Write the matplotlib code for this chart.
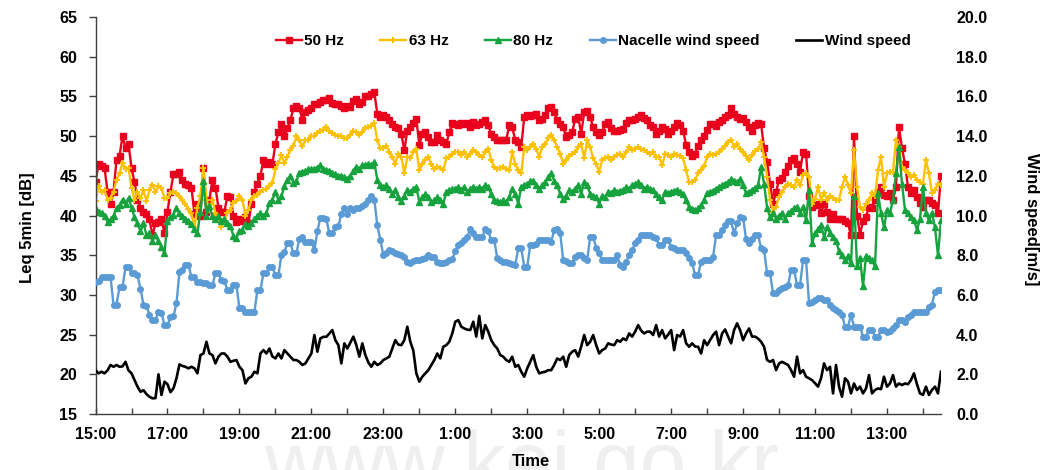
import numpy as np
import matplotlib
matplotlib.use("Agg")
import matplotlib.pyplot as plt

# 5-minute values from 15:00 to 14:30 next day (one row per hour)
leq_50hz = [
    44.2, 46.5, 46.2, 46.0, 43.0, 41.5, 43.0, 47.0, 47.5, 50.0, 48.5, 49.0,
    46.0, 44.2, 42.0, 41.0, 40.5, 40.2, 39.5, 37.5, 39.0, 39.2, 39.5, 37.8,
    40.5, 43.0, 45.2, 45.2, 45.5, 44.5, 44.0, 43.8, 43.5, 40.2, 41.5, 40.0,
    46.0, 40.5, 42.0, 44.5, 43.5, 41.0, 40.5, 40.5, 42.5, 42.3, 40.0, 39.2,
    39.5, 39.3, 39.8, 39.0, 41.5, 43.0, 44.0, 45.0, 47.0, 46.5, 46.8, 46.5,
    49.0, 50.5, 51.5, 50.0, 51.0, 52.0, 53.5, 53.8, 53.5, 52.0, 53.0, 53.3,
    53.5, 54.0, 54.0, 54.3, 54.5, 54.5, 54.8, 54.2, 54.0, 54.0, 53.8, 53.5,
    53.8, 53.7, 54.4, 54.7, 54.0, 54.3, 55.0, 55.1, 55.3, 55.5, 52.8, 52.4,
    52.6, 52.4, 52.0, 51.5, 51.1, 51.0, 50.3, 48.2, 50.7, 51.2, 51.6, 52.2,
    48.9, 50.3, 50.5, 49.9, 49.3, 49.3, 50.1, 49.5, 49.3, 49.0, 50.5, 51.6,
    51.5, 51.4, 51.6, 51.5, 51.6, 51.1, 51.8, 51.4, 51.5, 51.8, 52.0, 51.4,
    50.3, 49.9, 49.5, 49.5, 49.5, 49.5, 51.4, 51.1, 49.5, 49.2, 48.6, 52.4,
    52.6, 52.5, 52.6, 52.8, 52.0, 52.2, 52.6, 53.5, 53.7, 53.0, 52.0, 51.5,
    51.1, 49.9, 50.2, 50.5, 52.2, 52.4, 50.3, 53.0, 53.2, 52.4, 51.1, 50.5,
    50.1, 50.5, 51.5, 51.8, 51.0, 50.7, 50.7, 50.8, 50.9, 51.6, 52.0, 52.0,
    52.2, 52.4, 52.6, 52.3, 52.0, 51.4, 51.1, 50.3, 50.6, 51.1, 50.9, 50.3,
    50.6, 51.2, 51.6, 51.4, 50.7, 48.9, 48.0, 47.5, 47.8, 48.8, 49.5, 50.0,
    50.8, 51.5, 51.5, 51.3, 51.8, 52.0, 52.4, 52.6, 53.5, 52.8, 52.4, 52.2,
    52.3, 51.8, 51.1, 50.7, 51.4, 51.6, 51.5, 48.5, 46.8, 44.0, 41.5, 43.0,
    44.5, 44.7, 45.5, 46.2, 47.0, 47.3, 46.5, 45.5, 48.0, 47.8, 42.5, 41.1,
    41.3, 41.5, 40.3, 41.5, 40.5, 39.5, 40.2, 39.6, 39.6, 39.5, 39.3, 39.0,
    37.5, 50.0, 40.0, 37.6, 39.3, 39.8, 41.1, 40.9, 42.0, 43.0, 43.6, 42.6,
    42.4, 42.8, 42.0, 43.6, 51.2, 48.5, 46.5, 43.6, 42.8, 43.2, 42.3, 41.6,
    41.1, 42.0, 42.0, 41.6, 41.3, 40.3, 45.0,
]

leq_63hz = [
    41.8, 43.7, 43.0, 43.2, 42.0, 42.2, 43.0, 44.5, 45.3, 46.6, 45.8, 46.0,
    43.5, 42.0, 43.0, 42.2, 43.2, 41.8, 43.2, 43.9, 43.0, 43.7, 43.5, 42.2,
    42.2, 42.8, 43.0, 42.8, 42.4, 42.0, 41.5, 40.8, 40.3, 38.6, 41.0, 42.5,
    46.0, 42.0, 40.7, 42.0, 40.3, 39.5, 38.6, 39.5, 40.3, 40.7, 41.6, 41.8,
    42.4, 42.0, 39.9, 40.7, 42.0, 42.4, 42.6, 43.0, 43.2, 43.4, 43.7, 44.1,
    45.8, 46.6, 47.6, 46.6, 47.4, 48.3, 48.7, 50.0, 49.5, 48.7, 49.5, 49.5,
    50.0, 50.0, 50.4, 50.6, 50.8, 51.2, 50.6, 50.4, 50.2, 50.0, 50.0, 49.8,
    49.7, 50.2, 50.6, 50.5, 50.1, 50.5, 51.0, 51.1, 51.3, 51.6, 49.5, 48.5,
    48.5, 48.8, 48.0, 47.4, 46.5, 47.8, 47.4, 45.3, 47.4, 47.2, 48.0, 48.4,
    45.7, 46.5, 47.0, 47.4, 46.5, 45.9, 46.1, 46.0, 45.7, 47.2, 47.4, 47.8,
    48.0, 48.0, 47.6, 48.0, 47.4, 47.8, 48.2, 48.0, 47.6, 47.4, 48.0, 48.4,
    47.0, 46.1, 45.9, 46.0, 46.1, 45.9, 45.7, 48.0, 46.5, 45.7, 45.3, 48.6,
    48.2, 48.6, 49.0, 48.4, 47.4, 48.6, 49.0, 49.7, 50.1, 49.5, 48.6, 47.8,
    46.5, 47.0, 47.5, 47.8, 48.0, 48.6, 49.0, 47.2, 49.5, 48.6, 47.2, 46.5,
    45.5, 47.0, 47.2, 47.4, 47.0, 47.4, 47.6, 47.8, 47.4, 48.0, 48.6, 48.2,
    48.4, 48.6, 48.4, 48.2, 48.0, 47.8, 48.0, 47.4, 47.4, 46.3, 47.8, 47.6,
    47.4, 47.8, 47.6, 47.5, 47.2, 45.7, 44.2, 44.2, 44.5, 45.3, 45.7, 46.2,
    47.4, 47.8, 47.6, 47.8, 48.0, 48.4, 48.8, 49.2, 49.5, 48.6, 49.0, 48.4,
    48.0, 47.5, 47.0, 47.6, 48.1, 48.4, 49.2, 47.4, 44.9, 42.0, 40.5, 41.1,
    42.3, 43.0, 43.6, 44.0, 43.8, 43.6, 44.5, 43.8, 45.1, 45.3, 44.9, 41.5,
    42.1, 43.6, 42.0, 42.8, 42.0, 42.4, 42.2, 42.0, 42.0, 43.6, 44.9, 43.8,
    42.8, 48.2, 43.6, 41.1, 40.7, 41.5, 42.0, 42.8, 42.4, 45.7, 47.4, 43.6,
    45.3, 45.5, 45.5, 49.5, 48.6, 46.1, 45.7, 45.3, 44.9, 45.1, 44.5, 44.2,
    44.0, 47.0, 45.3, 42.8, 43.2, 44.0, 43.8,
]

leq_80hz = [
    40.8, 40.5, 40.3, 40.0, 39.2, 39.5, 40.0, 41.0, 41.3, 42.0, 41.5, 42.2,
    41.0, 39.8, 39.0, 38.0, 39.0, 37.5, 37.8, 36.8, 37.5, 36.8, 36.0, 35.3,
    39.3, 39.8, 40.1, 41.0, 40.3, 39.9, 39.5, 39.3, 38.9, 38.3, 37.8, 40.5,
    44.3, 39.9, 41.2, 39.9, 39.5, 39.9, 39.3, 39.5, 39.1, 38.7, 37.4, 37.2,
    38.0, 38.2, 38.9, 38.7, 39.1, 39.5, 39.9, 40.3, 39.9, 40.3, 41.6, 42.0,
    42.9, 42.0, 42.4, 43.7, 44.5, 45.0, 44.1, 44.3, 45.4, 45.5, 45.6, 45.8,
    45.8, 45.9, 46.0, 46.4, 45.8, 45.7, 45.6, 45.4, 45.2, 45.0, 45.0, 44.9,
    44.6, 45.0, 45.6, 46.1, 45.9, 46.3, 46.4, 46.5, 46.3, 46.7, 44.5, 43.8,
    43.6, 43.8, 43.4, 42.7, 43.2, 42.3, 41.8, 42.5, 43.2, 43.0, 43.4, 43.6,
    41.7, 42.3, 42.7, 42.3, 41.7, 41.9, 42.3, 41.9, 41.5, 43.0, 43.2, 43.3,
    43.4, 43.6, 43.2, 43.6, 43.0, 43.4, 43.6, 43.4, 43.6, 43.4, 43.8, 43.6,
    42.7, 41.9, 41.8, 41.7, 41.9, 41.7, 42.3, 43.4, 42.7, 41.5, 43.6, 43.8,
    44.0, 44.3, 44.4, 43.8, 43.4, 43.8, 44.2, 44.8, 45.3, 44.4, 43.8, 42.7,
    42.1, 42.5, 43.2, 43.0, 43.4, 43.8, 42.7, 44.2, 43.8, 42.7, 42.5, 42.3,
    41.5, 42.5, 42.3, 43.0, 42.8, 43.2, 43.0, 43.1, 43.2, 43.6, 43.4, 43.8,
    44.0, 44.2, 43.8, 43.4, 43.6, 43.4, 43.2, 42.7, 42.3, 41.9, 43.0, 42.8,
    43.0, 43.1, 43.2, 43.0, 42.7, 41.9, 41.1, 40.8, 40.7, 40.9, 41.3, 42.0,
    42.8, 43.0, 43.1, 43.4, 43.6, 43.8, 44.0, 44.2, 44.6, 44.4, 44.2, 44.6,
    43.8, 42.8, 43.0, 43.2, 43.5, 43.8, 46.1, 44.0, 41.0, 39.8, 40.3, 39.6,
    40.0, 40.3, 39.6, 40.3, 40.6, 40.9, 41.1, 40.3, 41.1, 39.4, 43.2, 36.5,
    37.8, 38.3, 38.8, 37.3, 38.5, 37.8, 37.3, 36.8, 35.5, 35.0, 34.4, 34.9,
    34.0, 42.4, 33.6, 34.7, 31.1, 34.9, 34.7, 34.4, 33.6, 42.8, 40.3, 38.5,
    40.7, 40.3, 42.0, 45.3, 48.6, 44.0, 40.7, 40.3, 39.8, 39.4, 38.2, 39.5,
    43.6, 40.3, 39.4, 40.3, 38.5, 35.0, 39.4,
]

nacelle_ws = [
    6.66, 6.70, 6.90, 6.90, 6.90, 6.90, 5.50, 5.50, 6.40, 6.40, 7.40, 7.40,
    7.10, 7.10, 7.00, 6.30, 5.50, 5.45, 5.00, 4.73, 4.75, 5.15, 5.10, 4.48,
    4.48, 4.90, 4.93, 5.57, 7.16, 7.25, 7.50, 7.50, 6.90, 6.90, 6.66, 6.66,
    6.58, 6.58, 6.50, 6.50, 7.08, 7.08, 6.75, 6.70, 6.24, 6.24, 6.50, 6.50,
    5.32, 5.32, 5.15, 5.15, 5.15, 5.15, 6.24, 6.24, 7.08, 7.08, 7.40, 7.40,
    7.00, 7.00, 8.00, 8.17, 8.60, 8.60, 8.10, 8.10, 8.84, 8.93, 8.67, 8.67,
    8.67, 8.26, 9.20, 9.90, 9.85, 9.80, 9.10, 9.10, 9.40, 9.45, 10.10, 10.40,
    10.10, 10.40, 10.30, 10.40, 10.40, 10.50, 10.60, 10.80, 11.00, 10.80, 9.50, 8.77,
    8.01, 8.10, 8.26, 8.20, 8.10, 8.08, 8.01, 7.93, 7.67, 7.59, 7.70, 7.76,
    7.76, 7.80, 7.84, 8.01, 7.93, 7.90, 7.67, 7.59, 7.62, 7.65, 7.76, 7.80,
    8.20, 8.51, 8.60, 8.77, 8.93, 9.30, 9.10, 8.93, 8.93, 8.93, 9.30, 9.20,
    8.77, 8.77, 7.84, 7.76, 7.67, 7.67, 7.59, 7.55, 7.50, 8.35, 8.35, 7.42,
    7.42, 8.51, 8.51, 8.55, 8.77, 8.77, 8.77, 8.77, 8.68, 9.27, 9.30, 9.10,
    7.76, 7.70, 7.59, 7.59, 7.93, 8.01, 8.00, 7.85, 7.76, 8.93, 8.93, 8.35,
    8.10, 7.76, 7.76, 7.76, 7.76, 7.76, 8.01, 7.50, 7.42, 7.67, 8.01, 8.26,
    8.60, 8.77, 9.02, 9.02, 9.02, 9.02, 8.93, 8.85, 8.51, 8.51, 8.77, 8.77,
    8.40, 8.35, 8.26, 8.26, 8.26, 8.10, 7.84, 7.60, 7.00, 7.00, 7.67, 7.76,
    7.76, 7.76, 7.93, 9.02, 9.02, 9.27, 9.50, 9.70, 9.70, 9.10, 9.60, 9.94,
    9.90, 8.80, 8.60, 8.80, 9.02, 9.02, 8.35, 8.26, 7.08, 7.08, 6.08, 6.08,
    6.24, 6.33, 6.40, 6.50, 7.25, 7.25, 6.50, 6.50, 7.76, 7.76, 5.58, 5.66,
    5.75, 5.83, 5.83, 5.75, 5.75, 5.50, 5.33, 5.24, 5.16, 5.00, 4.40, 4.40,
    5.00, 4.40, 4.40, 4.40, 3.90, 3.90, 4.23, 4.23, 3.90, 3.90, 4.23, 4.23,
    4.15, 4.20, 4.32, 4.49, 4.74, 4.74, 4.66, 4.91, 5.00, 5.16, 5.16, 5.16,
    5.16, 5.16, 5.41, 5.50, 6.17, 6.25, 6.25,
]

wind_ws = [
    2.21, 2.05, 2.13, 2.05, 2.20, 2.47, 2.38, 2.47, 2.38, 2.40, 2.63, 2.20,
    2.05, 1.71, 1.38, 1.12, 1.20, 1.00, 0.87, 0.79, 0.80, 2.00, 0.96, 1.63,
    1.50, 1.10, 1.30, 1.80, 2.50, 2.42, 2.38, 2.30, 2.38, 2.30, 2.05, 2.97,
    3.05, 3.64, 3.05, 2.97, 2.55, 2.89, 3.05, 3.05, 2.89, 2.63, 2.68, 2.72,
    2.38, 2.21, 1.54, 1.80, 1.88, 2.13, 2.05, 3.05, 3.22, 3.05, 3.30, 2.90,
    2.80, 3.05, 2.80, 3.22, 3.05, 2.89, 2.72, 2.72, 2.63, 2.47, 2.55, 2.80,
    3.05, 3.98, 3.14, 3.81, 3.89, 3.89, 4.06, 4.23, 3.72, 3.47, 2.55, 3.56,
    3.30, 3.60, 3.90, 3.47, 2.89, 3.56, 2.97, 2.60, 2.38, 2.63, 2.47, 2.55,
    2.72, 2.80, 2.89, 3.30, 3.72, 3.50, 3.47, 3.72, 4.40, 3.64, 3.20, 2.05,
    1.63, 1.88, 2.05, 2.21, 2.47, 2.72, 3.05, 2.80, 3.39, 3.47, 3.64, 4.06,
    4.65, 4.73, 4.40, 4.31, 4.25, 4.23, 4.65, 3.90, 4.94, 3.81, 4.48, 4.15,
    3.72, 3.47, 3.30, 2.97, 2.89, 2.72, 2.63, 2.89, 2.38, 2.47, 2.13, 1.88,
    2.30, 2.63, 2.97, 2.38, 2.05, 2.10, 2.13, 2.21, 2.21, 2.47, 2.80, 2.72,
    2.89, 2.38, 2.97, 3.14, 3.22, 2.89, 3.40, 3.98, 3.47, 3.64, 3.98, 3.47,
    3.05, 3.22, 3.30, 3.56, 3.50, 3.47, 3.72, 3.64, 3.81, 3.72, 4.06, 3.90,
    4.15, 4.48, 4.20, 4.06, 4.15, 4.15, 3.98, 4.48, 3.90, 4.23, 3.81, 4.00,
    4.23, 3.22, 3.98, 3.90, 4.23, 3.56, 3.39, 3.56, 3.40, 3.39, 3.05, 3.72,
    3.47, 3.72, 3.98, 4.15, 3.47, 4.06, 4.26, 3.90, 3.56, 4.23, 4.57, 4.23,
    3.72, 4.06, 4.31, 3.90, 3.90, 3.80, 3.64, 3.39, 2.72, 2.63, 2.72, 2.21,
    2.55, 2.63, 2.55, 2.47, 2.21, 1.88, 2.89, 2.05, 2.21, 1.88, 1.80, 1.71,
    1.55, 1.38, 1.80, 2.55, 2.21, 2.38, 1.04, 2.47, 1.38, 0.87, 1.80, 1.63,
    1.04, 1.54, 1.21, 1.38, 1.04, 1.29, 1.96, 1.04, 1.21, 1.29, 1.25, 1.88,
    1.38, 1.54, 1.96, 1.38, 1.54, 1.46, 1.54, 1.50, 1.71, 2.05, 1.50, 1.04,
    0.96, 1.38, 0.96, 1.21, 1.38, 1.04, 2.13,
]

start_hour = 15
n_hours = 24

plt.rcParams['font.family'] = ['Liberation Sans', 'DejaVu Sans']
plt.rcParams['font.weight'] = 'bold'
plt.rcParams['axes.labelweight'] = 'bold'

t = np.arange(len(leq_50hz)) * 5 / 60.0

fig = plt.figure(figsize=(10.44, 4.70), dpi=100)
ax = fig.add_axes([0.0915, 0.1191, 0.8098, 0.8447])
ax.patch.set_alpha(0)

ax.plot(t, leq_50hz, color='#E8001C', marker='s', ms=3.9, lw=1.7, label='50 Hz')
ax.plot(t, leq_63hz, color='#FFC000', marker='+', ms=5, mew=1.4, lw=1.7, label='63 Hz')
ax.plot(t, leq_80hz, color='#16A23C', marker='^', ms=4.2, lw=1.7, label='80 Hz')

ax2 = ax.twinx()
ax2.plot(t, nacelle_ws, color='#5B9BD5', marker='o', ms=4, lw=1.7,
         label='Nacelle wind speed')
ax2.plot(t, wind_ws, color='black', lw=1.9, label='Wind speed')

# axes ranges and ticks
ax.set_xlim(0, 23.5)
ax.set_ylim(15, 65)
ax.set_yticks(np.arange(15, 66, 5))
ax2.set_ylim(0, 20)
ax2.set_yticks(np.arange(0, 21, 2))
ax2.set_yticklabels([f"{v:.1f}" for v in np.arange(0, 21, 2)])

hours = np.arange(n_hours)
ax.set_xticks(hours)
ax.set_xticklabels([f"{(start_hour + h) % 24}:00" if h % 2 == 0 else "" for h in hours])

ax.tick_params(axis='x', direction='in', length=4, width=1, pad=9,
               labelsize=11.5, color='#404040')
ax.tick_params(axis='y', direction='out', length=5, width=1, pad=8,
               labelsize=11.5, color='#404040')
ax2.tick_params(axis='y', length=0, pad=11, labelsize=11.5)

for s in ['top', 'right']:
    ax.spines[s].set_visible(False)
for s in ax2.spines.values():
    s.set_visible(False)
for s in ['left', 'bottom']:
    ax.spines[s].set_color('#404040')
    ax.spines[s].set_linewidth(1.0)

ax.set_ylabel('Leq 5min [dB]', fontsize=12)
ax.yaxis.set_label_coords(-0.0716, 0.47)
ax2.set_ylabel('Wind speed[m/s]', fontsize=12, rotation=270)
ax2.yaxis.set_label_coords(1.116, 0.49)
ax.set_xlabel('Time', fontsize=12)
ax.xaxis.set_label_coords(0.515, -0.101)

# legend across the top
h1, l1 = ax.get_legend_handles_labels()
h2, l2 = ax2.get_legend_handles_labels()
fig.legend(h1 + h2, l1 + l2, loc='center', bbox_to_anchor=(593 / 1044, 1 - 41 / 470),
           ncol=5, frameon=False, fontsize=11, handlelength=1.7,
           handletextpad=0.15, columnspacing=2.4)

# faint watermark of the source site
fig.text(0.5, -0.042, 'www.kei.go.kr', fontsize=60, color='#efefef',
         ha='center', va='baseline', fontweight='normal', zorder=-1)

fig.savefig('out.png', dpi=100)
